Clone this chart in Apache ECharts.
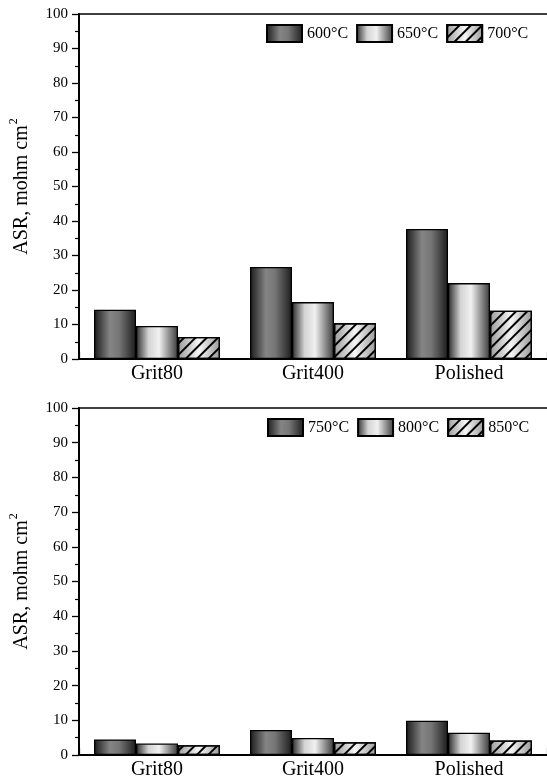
<!DOCTYPE html>
<html>
<head>
<meta charset="utf-8">
<script src="https://cdn.jsdelivr.net/npm/echarts@6/dist/echarts.min.js"></script>
<style>
html,body{margin:0;padding:0;background:#fff;}
#chart{width:547px;height:780px;}
</style>
</head>
<body>
<div id="chart"></div>
<script>
// ---- data ----
const categories = ['Grit80', 'Grit400', 'Polished'];
const tempsTop = ['600°C', '650°C', '700°C'];
const tempsBottom = ['750°C', '800°C', '850°C'];
const asr600 = [14.3, 26.7, 37.7];
const asr650 = [9.6, 16.5, 22.0];
const asr700 = [6.4, 10.4, 14.0];
const asr750 = [4.5, 7.2, 9.9];
const asr800 = [3.3, 4.9, 6.4];
const asr850 = [2.8, 3.7, 4.2];
const yMin = 0, yMax = 100, yStep = 10;

// ---- styles ----
const FONT = 'Liberation Serif';
function grad(stops) {
  return new echarts.graphic.LinearGradient(0, 0, 1, 0,
    stops.map(s => ({offset: s[0], color: s[1]})));
}
const styleDark = () => ({
  color: grad([[0, '#1a1a1a'], [0.38, '#858585'], [0.6, '#767676'], [1, '#1c1c1c']]),
  borderColor: '#000', borderWidth: 1.3
});
const styleLight = () => ({
  color: grad([[0, '#2a2a2a'], [0.3, '#d4d4d4'], [0.55, '#f0f0f0'], [1, '#3a3a3a']]),
  borderColor: '#000', borderWidth: 1.3
});
const styleHatch = () => ({
  color: grad([[0, '#9a9a9a'], [0.5, '#f6f6f6'], [1, '#9a9a9a']]),
  borderColor: '#000', borderWidth: 1.3,
  decal: {
    symbol: 'rect', symbolSize: 1, color: '#000',
    dashArrayX: [1, 0], dashArrayY: [1.6, 5.4], rotation: -Math.PI / 4
  }
});

const grids = [
  {left: 77, right: 0, top: 14, height: 345},
  {left: 77, right: 0, top: 408, height: 349}
];

function xBottom(gi) {
  return {
    type: 'category', gridIndex: gi, data: categories, position: 'bottom',
    axisLine: {lineStyle: {color: '#000', width: 2}},
    axisTick: {show: true, inside: true, length: 7, lineStyle: {color: '#000', width: 1.2},
      interval: (i) => i === 1},
    axisLabel: {color: '#000', fontFamily: FONT, fontSize: 20, margin: 5},
  };
}
function xTop(gi) {
  return {
    type: 'category', gridIndex: gi, data: categories, position: 'top',
    axisLine: {lineStyle: {color: '#000', width: 1.5}},
    axisTick: {show: false}, axisLabel: {show: false}
  };
}
function yAx(gi) {
  return {
    type: 'value', gridIndex: gi, min: yMin, max: yMax, interval: yStep,
    name: 'ASR, mohm cm{sup|2}', nameLocation: 'middle', nameGap: 43, nameRotate: 90,
    nameTextStyle: {color: '#000', fontFamily: FONT, fontSize: 20,
      rich: {sup: {fontFamily: FONT, fontSize: 12, verticalAlign: 'top', padding: [0, 0, 16, 1]}}},
    axisLine: {show: true, lineStyle: {color: '#000', width: 2}},
    axisTick: {show: true, inside: false, length: 7, lineStyle: {color: '#000', width: 1.3}},
    minorTick: {show: true, splitNumber: 2, length: 4, lineStyle: {color: '#000', width: 1.2}},
    splitLine: {show: false},
    axisLabel: {color: '#000', fontFamily: FONT, fontSize: 15, margin: 11}
  };
}

function barSeries(name, data, xi, yi, style) {
  return {
    type: 'bar', name: name, data: data, xAxisIndex: xi, yAxisIndex: yi,
    barWidth: 42, barGap: '0%', itemStyle: style, emphasis: {disabled: true},
    animation: false
  };
}

const legendCommon = {
  itemWidth: 35, itemHeight: 17, itemGap: 8, icon: 'rect', padding: 0,
  textStyle: {color: '#000', fontFamily: FONT, fontSize: 16},
  selectedMode: false
};

const chart = echarts.init(document.getElementById('chart'), null, {renderer: 'canvas'});
chart.setOption({
  backgroundColor: '#fff',
  animation: false,
  grid: grids,
  xAxis: [xBottom(0), xBottom(1), xTop(0), xTop(1)],
  yAxis: [yAx(0), yAx(1)],
  legend: [
    Object.assign({left: 266, top: 24, data: tempsTop}, legendCommon),
    Object.assign({left: 267, top: 418, data: tempsBottom}, legendCommon)
  ],
  series: [
    barSeries(tempsTop[0], asr600, 0, 0, styleDark()),
    barSeries(tempsTop[1], asr650, 0, 0, styleLight()),
    barSeries(tempsTop[2], asr700, 0, 0, styleHatch()),
    barSeries(tempsBottom[0], asr750, 1, 1, styleDark()),
    barSeries(tempsBottom[1], asr800, 1, 1, styleLight()),
    barSeries(tempsBottom[2], asr850, 1, 1, styleHatch())
  ]
});
</script>
</body>
</html>
